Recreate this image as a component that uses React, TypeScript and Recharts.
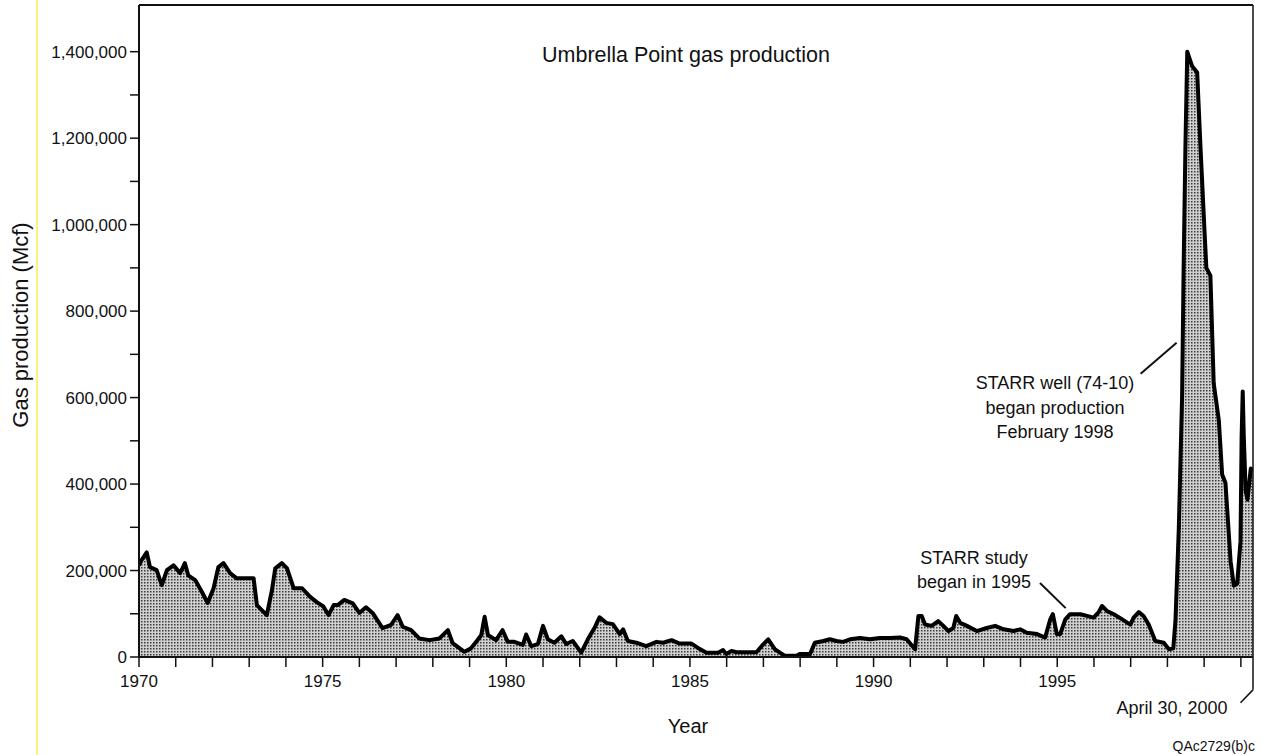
import { AreaChart, Area, XAxis, YAxis, ReferenceLine } from 'recharts';

// Umbrella Point gas production, Mcf per month
const years1970s = [
  1970.0, 1970.07, 1970.21, 1970.3, 1970.48, 1970.62, 1970.76, 1970.94, 1971.12, 1971.25,
  1971.34, 1971.53, 1971.71, 1971.87, 1972.03, 1972.16, 1972.3, 1972.48, 1972.66, 1972.89,
  1973.12, 1973.21, 1973.35, 1973.48, 1973.62, 1973.71, 1973.89, 1974.03, 1974.21, 1974.44,
  1974.66, 1974.84, 1975.02, 1975.16, 1975.3, 1975.41, 1975.59, 1975.82, 1976.0, 1976.18,
  1976.36, 1976.63, 1976.86, 1977.04, 1977.18, 1977.41, 1977.63, 1977.91, 1978.18, 1978.41,
  1978.54, 1978.86, 1979.04, 1979.18, 1979.32, 1979.41, 1979.5, 1979.72, 1979.9,
];
const gas1970s = [
  212000, 224000, 242000, 208000, 201000, 166000, 201000, 212000, 194000, 217000,
  189000, 178000, 151000, 125000, 159000, 208000, 217000, 194000, 182000, 182000,
  182000, 120000, 108000, 97000, 155000, 205000, 217000, 205000, 159000, 159000,
  139000, 127000, 117000, 97000, 120000, 120000, 132000, 124000, 102000, 115000,
  102000, 67000, 74000, 97000, 70000, 62000, 43000, 39000, 43000, 62000,
  32000, 12000, 20000, 35000, 51000, 93000, 51000, 39000, 62000,
];

const years1980s = [
  1980.04, 1980.22, 1980.45, 1980.54, 1980.68, 1980.86, 1981.0, 1981.13, 1981.31, 1981.5,
  1981.63, 1981.81, 1982.04, 1982.22, 1982.4, 1982.54, 1982.72, 1982.9, 1983.09, 1983.18,
  1983.31, 1983.54, 1983.81, 1984.09, 1984.27, 1984.5, 1984.72, 1985.04, 1985.22, 1985.45,
  1985.77, 1985.9, 1985.99, 1986.13, 1986.27, 1986.81, 1986.95, 1987.13, 1987.31, 1987.45,
  1987.58, 1987.9, 1987.99, 1988.27, 1988.4, 1988.63, 1988.81, 1988.99, 1989.17, 1989.36,
  1989.63, 1989.9,
];
const gas1980s = [
  35000, 35000, 28000, 52000, 25000, 30000, 72000, 41000, 33000, 48000,
  30000, 37000, 10000, 41000, 67000, 92000, 79000, 76000, 53000, 64000,
  37000, 33000, 25000, 35000, 33000, 39000, 31000, 31000, 21000, 10000,
  10000, 16000, 7000, 14000, 11000, 11000, 25000, 41000, 18000, 10000,
  3000, 3000, 7000, 7000, 33000, 37000, 41000, 37000, 35000, 41000,
  44000, 41000,
];

const years1990s = [
  1990.17, 1990.45, 1990.72, 1990.9, 1991.13, 1991.22, 1991.31, 1991.4, 1991.58, 1991.76,
  1991.9, 1992.04, 1992.17, 1992.25, 1992.36, 1992.54, 1992.81, 1993.08, 1993.31, 1993.54,
  1993.81, 1993.99, 1994.17, 1994.45, 1994.67, 1994.81, 1994.88, 1994.99, 1995.08, 1995.22,
  1995.35, 1995.63, 1995.81, 1995.99, 1996.13, 1996.22, 1996.36, 1996.54, 1996.77, 1996.99,
  1997.08, 1997.22, 1997.35, 1997.49, 1997.67, 1997.9, 1998.04, 1998.16, 1998.22, 1998.31,
  1998.4, 1998.44, 1998.49, 1998.54, 1998.58, 1998.67, 1998.81, 1998.9, 1999.01, 1999.06,
  1999.17, 1999.26, 1999.4, 1999.49, 1999.58, 1999.72, 1999.81, 1999.9, 1999.99, 2000.02,
  2000.05, 2000.08, 2000.13, 2000.18, 2000.27, 2000.33,
];
const gas1990s = [
  44000, 44000, 45000, 41000, 18000, 95000, 95000, 75000, 72000, 83000,
  72000, 60000, 67000, 95000, 79000, 72000, 60000, 67000, 72000, 64000,
  60000, 64000, 56000, 53000, 45000, 87000, 99000, 53000, 53000, 87000,
  99000, 99000, 95000, 91000, 104000, 118000, 106000, 99000, 87000, 75000,
  91000, 104000, 95000, 75000, 37000, 33000, 18000, 20000, 86000, 297000,
  604000, 892000, 1180000, 1400000, 1390000, 1367000, 1352000, 1180000, 985000, 900000,
  882000, 633000, 547000, 422000, 403000, 221000, 165000, 170000, 268000, 508000,
  614000, 508000, 384000, 364000, 436000, 432000,
];

const yTicks = [
  0, 100000, 200000, 300000, 400000, 500000, 600000, 700000,
  800000, 900000, 1000000, 1100000, 1200000, 1300000, 1400000,
];
const xTicks = [
  1970, 1971, 1972, 1973, 1974, 1975, 1976, 1977, 1978, 1979, 1980,
  1981, 1982, 1983, 1984, 1985, 1986, 1987, 1988, 1989, 1990,
  1991, 1992, 1993, 1994, 1995, 1996, 1997, 1998, 1999, 2000,
];

const END_DATE = 2000.33; // April 30, 2000
const Y_MAX = 1508000;

const FONT = '"Liberation Sans", Arial, Helvetica, sans-serif';
const INK = '#111';

const data = [
  ...years1970s.map((year, i) => ({ year, gas: gas1970s[i] })),
  ...years1980s.map((year, i) => ({ year, gas: gas1980s[i] })),
  ...years1990s.map((year, i) => ({ year, gas: gas1990s[i] })),
];

export default function App() {
  return (
    <div style={{ position: 'absolute', left: 0, top: 0, width: 1263, height: 755, background: '#fff' }}>
      <AreaChart width={1263} height={755} data={data} margin={{ top: 5, right: 10, bottom: 68, left: 0 }}>
        <defs>
          {/* stippled fill like the printed figure */}
          <pattern id="stipple" width={3} height={3} patternUnits="userSpaceOnUse">
            <rect width={3} height={3} fill="#d0d0d0" />
            <rect width={1.5} height={1.5} fill="#3a3a3a" />
          </pattern>
        </defs>
        <XAxis
          dataKey="year"
          type="number"
          domain={[1970, END_DATE]}
          ticks={xTicks}
          interval={0}
          allowDataOverflow
          height={30}
          tickSize={10}
          tickMargin={8}
          axisLine={{ stroke: INK, strokeWidth: 2 }}
          tickLine={{ stroke: INK, strokeWidth: 1.5 }}
          tick={{ fontSize: 17, fill: INK, fontFamily: FONT }}
          tickFormatter={(v: number) => (v % 5 === 0 && v < 2000 ? String(v) : '')}
        />
        <YAxis
          type="number"
          domain={[0, Y_MAX]}
          ticks={yTicks}
          interval={0}
          allowDataOverflow
          width={139}
          tickSize={9}
          tickMargin={3}
          axisLine={{ stroke: INK, strokeWidth: 2 }}
          tickLine={{ stroke: INK, strokeWidth: 1.5 }}
          tick={{ fontSize: 17, fill: INK, fontFamily: FONT }}
          tickFormatter={(v: number) => (v % 200000 === 0 ? v.toLocaleString('en-US') : '')}
        />
        <Area
          type="linear"
          dataKey="gas"
          stroke="#000"
          strokeWidth={4}
          strokeLinejoin="round"
          fill="url(#stipple)"
          fillOpacity={1}
          dot={false}
          activeDot={false}
          isAnimationActive={false}
        />
        {/* frame: top and right */}
        <ReferenceLine
          segment={[{ x: 1970, y: Y_MAX }, { x: END_DATE, y: Y_MAX }]}
          stroke={INK}
          strokeWidth={2}
          ifOverflow="visible"
        />
        <ReferenceLine x={END_DATE} stroke={INK} strokeWidth={1.5} ifOverflow="visible" />
        {/* leader lines */}
        <ReferenceLine
          segment={[{ x: 1997.27, y: 655000 }, { x: 1998.25, y: 727000 }]}
          stroke={INK}
          strokeWidth={2}
        />
        <ReferenceLine
          segment={[{ x: 1994.53, y: 171000 }, { x: 1995.23, y: 113000 }]}
          stroke={INK}
          strokeWidth={2}
        />
        <ReferenceLine
          segment={[{ x: END_DATE, y: 0 }, { x: END_DATE, y: -76000 }]}
          stroke={INK}
          strokeWidth={1.5}
          ifOverflow="visible"
        />
        <ReferenceLine
          segment={[{ x: END_DATE, y: -76000 }, { x: 1999.99, y: -106000 }]}
          stroke={INK}
          strokeWidth={1.5}
          ifOverflow="visible"
        />

        <line x1={37} y1={0} x2={37} y2={755} stroke="#fff27a" strokeWidth={2} />

        <g fontFamily={FONT} fill={INK}>
          <text x={686} y={62} fontSize={21.5} textAnchor="middle">Umbrella Point gas production</text>
          <text x={688} y={733} fontSize={20} textAnchor="middle">Year</text>
          <text transform="translate(28,325) rotate(-90)" fontSize={22} textAnchor="middle">
            Gas production (Mcf)
          </text>
          <text x={1055} y={389} fontSize={18} textAnchor="middle">STARR well (74-10)</text>
          <text x={1055} y={414} fontSize={18} textAnchor="middle">began production</text>
          <text x={1055} y={438} fontSize={18} textAnchor="middle">February 1998</text>
          <text x={974} y={564} fontSize={18} textAnchor="middle">STARR study</text>
          <text x={974} y={588} fontSize={18} textAnchor="middle">began in 1995</text>
          <text x={1172} y={714} fontSize={18} textAnchor="middle">April 30, 2000</text>
          <text x={1255} y={751} fontSize={14} textAnchor="end">QAc2729(b)c</text>
        </g>
      </AreaChart>
    </div>
  );
}
